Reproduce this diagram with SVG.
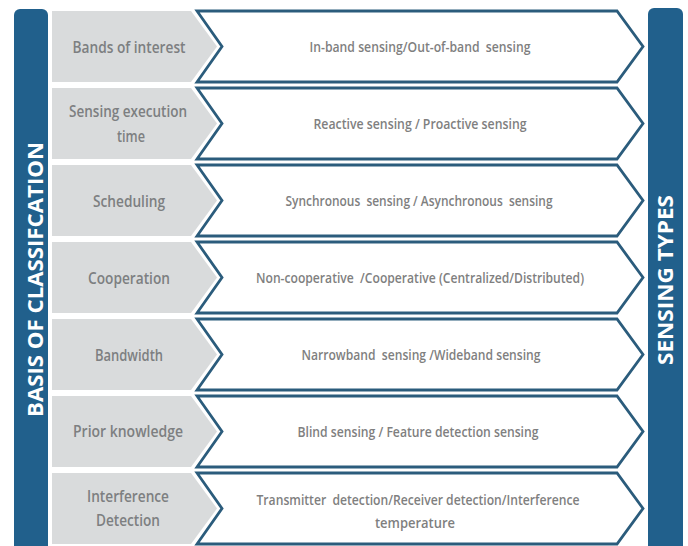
<svg xmlns="http://www.w3.org/2000/svg" width="688" height="546" viewBox="0 0 688 546">
<style>
.bar{fill:#21608c}
.vt{font-family:"Open Sans","Noto Sans",sans-serif;font-weight:bold;font-size:22px;fill:#ffffff;text-anchor:middle}
.gp{fill:#d9dbdc}
.wa{fill:#ffffff;stroke:#2b5c7c;stroke-width:2.8;stroke-linejoin:miter}
.gt{font-family:"Open Sans","Noto Sans",sans-serif;font-weight:600;font-size:16.5px;fill:#7d7f81;text-anchor:middle;white-space:pre}
.rt{font-family:"Open Sans","Noto Sans",sans-serif;font-weight:600;font-size:14px;fill:#7f7f7f;text-anchor:middle;white-space:pre}
</style>
<defs>
<polygon id="gray" class="gp" points="52,0 191,0 217,35.5 191,71 52,71"/>
<polygon id="arrow" class="wa" points="197,0 617,0 643,35.5 617,71 197,71 222,35.5"/>
</defs>
<rect width="688" height="546" fill="#ffffff"/>
<g id="basis-bar">
<rect class="bar" x="14" y="9" width="34" height="545" rx="6"/>
<text class="vt" transform="translate(43,279.5) rotate(-90)" textLength="275" lengthAdjust="spacingAndGlyphs">BASIS OF CLASSIFCATION</text>
</g>
<g id="types-bar">
<rect class="bar" x="648" y="8" width="35" height="546" rx="6"/>
<text class="vt" transform="translate(673,280) rotate(-90)" textLength="170" lengthAdjust="spacingAndGlyphs">SENSING TYPES</text>
</g>
<g id="row1">
<use href="#gray" y="11"/><use href="#arrow" y="11"/>
<text class="gt" x="129" y="53" textLength="113" lengthAdjust="spacingAndGlyphs">Bands of interest</text>
<text class="rt" x="420" y="52" textLength="221" lengthAdjust="spacingAndGlyphs">In-band sensing/Out-of-band  sensing</text>
</g>
<g id="row2">
<use href="#gray" y="88"/><use href="#arrow" y="88"/>
<text class="gt" x="128" y="117" textLength="118" lengthAdjust="spacingAndGlyphs">Sensing execution</text>
<text class="gt" x="131" y="142" textLength="28" lengthAdjust="spacingAndGlyphs">time</text>
<text class="rt" x="420" y="129" textLength="213" lengthAdjust="spacingAndGlyphs">Reactive sensing / Proactive sensing</text>
</g>
<g id="row3">
<use href="#gray" y="165"/><use href="#arrow" y="165"/>
<text class="gt" x="129" y="207" textLength="72" lengthAdjust="spacingAndGlyphs">Scheduling</text>
<text class="rt" x="419" y="206" textLength="267" lengthAdjust="spacingAndGlyphs">Synchronous  sensing / Asynchronous  sensing</text>
</g>
<g id="row4">
<use href="#gray" y="242"/><use href="#arrow" y="242"/>
<text class="gt" x="129" y="284" textLength="82" lengthAdjust="spacingAndGlyphs">Cooperation</text>
<text class="rt" x="420" y="283" textLength="328" lengthAdjust="spacingAndGlyphs">Non-cooperative  /Cooperative (Centralized/Distributed)</text>
</g>
<g id="row5">
<use href="#gray" y="319"/><use href="#arrow" y="319"/>
<text class="gt" x="129" y="361" textLength="68" lengthAdjust="spacingAndGlyphs">Bandwidth</text>
<text class="rt" x="421" y="360" textLength="239" lengthAdjust="spacingAndGlyphs">Narrowband  sensing /Wideband sensing</text>
</g>
<g id="row6">
<use href="#gray" y="396"/><use href="#arrow" y="396"/>
<text class="gt" x="128" y="437" textLength="110" lengthAdjust="spacingAndGlyphs">Prior knowledge</text>
<text class="rt" x="418" y="437" textLength="241" lengthAdjust="spacingAndGlyphs">Blind sensing / Feature detection sensing</text>
</g>
<g id="row7">
<use href="#gray" y="473"/><use href="#arrow" y="473"/>
<text class="gt" x="128" y="502" textLength="82" lengthAdjust="spacingAndGlyphs">Interference</text>
<text class="gt" x="128" y="526" textLength="64" lengthAdjust="spacingAndGlyphs">Detection</text>
<text class="rt" x="418" y="505" textLength="323" lengthAdjust="spacingAndGlyphs">Transmitter  detection/Receiver detection/Interference</text>
<text class="rt" x="415" y="528" textLength="80" lengthAdjust="spacingAndGlyphs">temperature</text>
</g>
</svg>
